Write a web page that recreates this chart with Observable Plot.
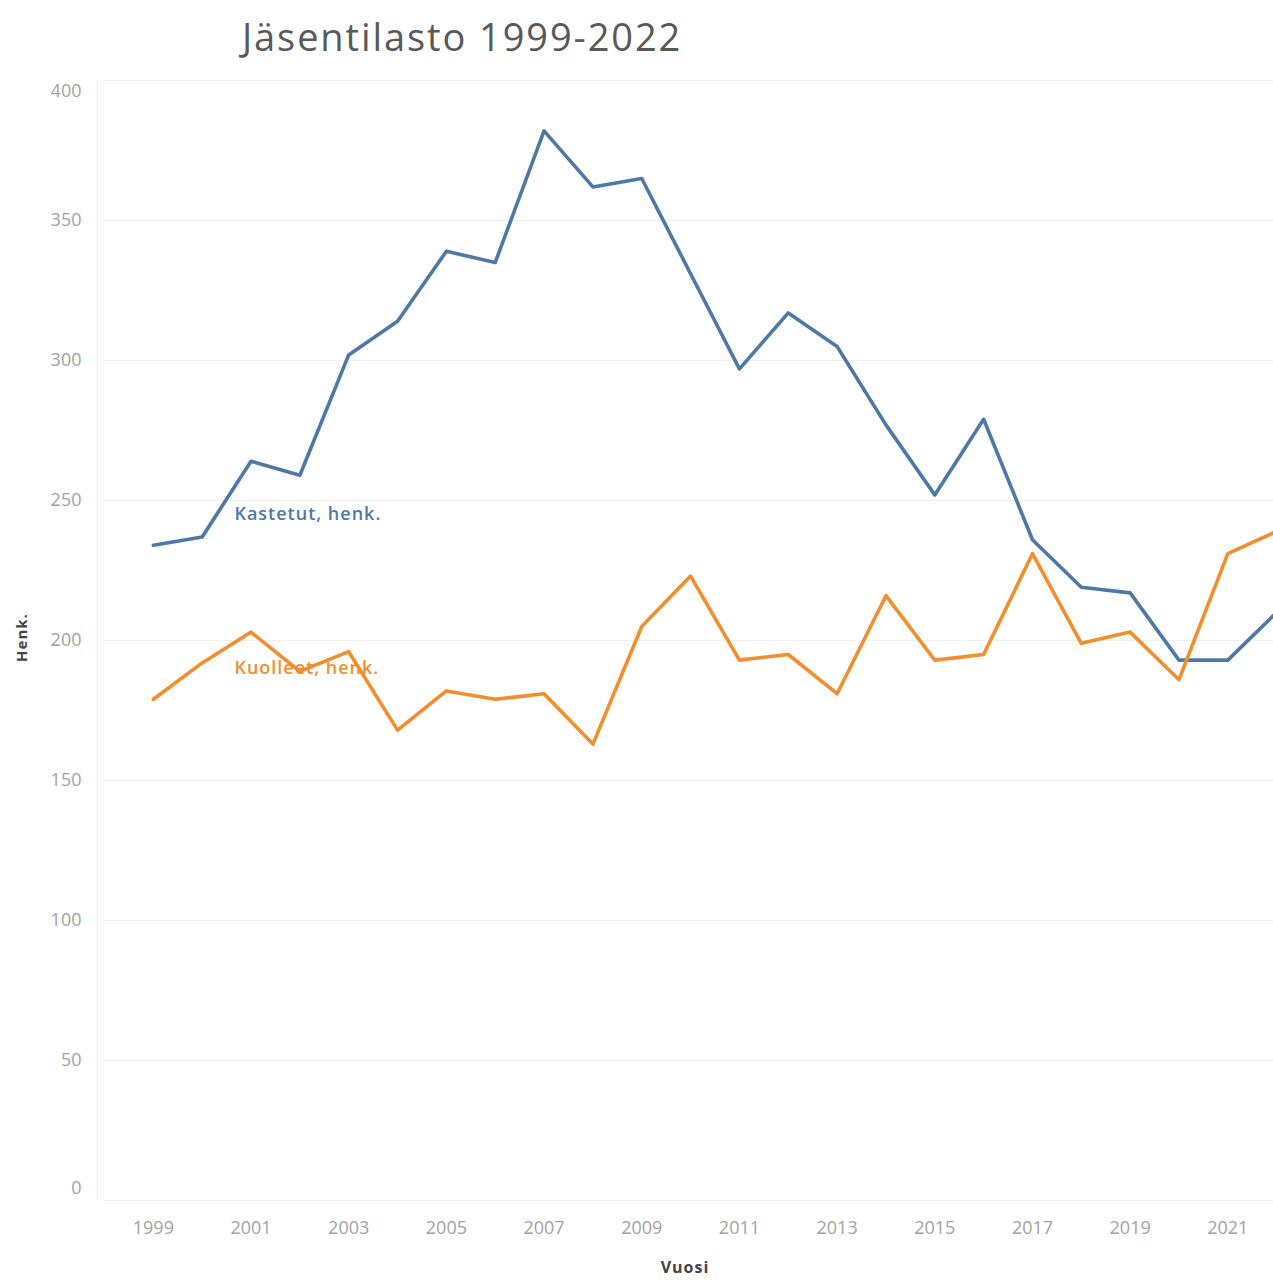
<!DOCTYPE html>
<html>
<head>
<meta charset="utf-8">
<script src="https://cdn.jsdelivr.net/npm/d3@7"></script>
<script src="https://cdn.jsdelivr.net/npm/@observablehq/plot@0.6"></script>
<style>
  html, body { margin: 0; padding: 0; background: #fff; overflow: hidden; }
  #title { height: 78px; box-sizing: border-box; padding-left: 242px; padding-top: 9px;
    font-family: "Open Sans", sans-serif; font-size: 38px; font-weight: 400; letter-spacing: 1.9px;
    color: #595959; line-height: 54px; }
  #chart svg { display: block; }
</style>
</head>
<body>
<div id="title">Jäsentilasto 1999-2022</div>
<div id="chart"></div>
<script>
const years = [1999,2000,2001,2002,2003,2004,2005,2006,2007,2008,2009,2010,2011,2012,2013,2014,2015,2016,2017,2018,2019,2020,2021,2022];
const kastetut = [234,237,264,259,302,314,339,335,382,362,365,331,297,317,305,277,252,279,236,219,217,193,193,210];
const kuolleet = [179,192,203,189,196,168,182,179,181,163,205,223,193,195,181,216,193,195,231,199,203,186,231,239];
const seriesNames = ["Kastetut, henk.", "Kuolleet, henk."];
const seriesColors = ["#4e79a7", "#f28e2b"];
const labelX = [2000.66, 2000.66];
const labelY = [245, 190];
const yTicks = [50,100,150,200,250,300,350];
const xTicks = [1999,2001,2003,2005,2007,2009,2011,2013,2015,2017,2019,2021];

const rows = [];
years.forEach((yr, i) => {
  rows.push({year: yr, value: kastetut[i], series: seriesNames[0]});
  rows.push({year: yr, value: kuolleet[i], series: seriesNames[1]});
});
const labels = seriesNames.map((s, i) => ({series: s, x: labelX[i], y: labelY[i]}));

const font = "Open Sans, sans-serif";
const tickStyle = {tickSize: 0, fill: "#a3a3a3", fontSize: 18, label: null};
const chart = Plot.plot({
  width: 1273,
  height: 1206,
  marginTop: 2,
  marginBottom: 84,
  marginLeft: 104,
  marginRight: -52,
  style: {fontFamily: font, background: "#fff"},
  x: {domain: [1998, 2023]},
  y: {domain: [0, 400]},
  color: {domain: seriesNames, range: seriesColors},
  marks: [
    Plot.gridY([0, ...yTicks, 400], {stroke: "#000", strokeOpacity: 0.06}),
    Plot.ruleX([1998], {stroke: "#000", strokeOpacity: 0.05, dx: -7}),
    Plot.axisY(yTicks, {...tickStyle, tickPadding: 23}),
    Plot.axisY([400], {...tickStyle, tickPadding: 23, dy: 11}),
    Plot.axisY([0], {...tickStyle, tickPadding: 23, dy: -12}),
    Plot.axisX(xTicks, {...tickStyle, tickPadding: 21, tickFormat: d => String(d)}),
    Plot.text(["Vuosi"], {frameAnchor: "bottom", dx: -30, dy: 72, fontSize: 16, fontWeight: "bold", fill: "#444"}),
    Plot.text(["Henk."], {frameAnchor: "left", textAnchor: "middle", dx: -82, dy: -3, rotate: -90, fontSize: 15, fontWeight: "bold", fill: "#444"}),
    Plot.line(rows, {x: "year", y: "value", stroke: "series", strokeWidth: 3.6, strokeLinejoin: "round"}),
    Plot.text(labels, {x: "x", y: "y", text: "series", fill: "series", textAnchor: "start", fontSize: 18, fontWeight: 600})
  ]
});
chart.querySelectorAll("g[aria-label='tick label'] text, g[aria-label='text'] text").forEach(t => {
  t.style.letterSpacing = "1px";
});
document.getElementById("chart").appendChild(chart);
</script>
</body>
</html>
